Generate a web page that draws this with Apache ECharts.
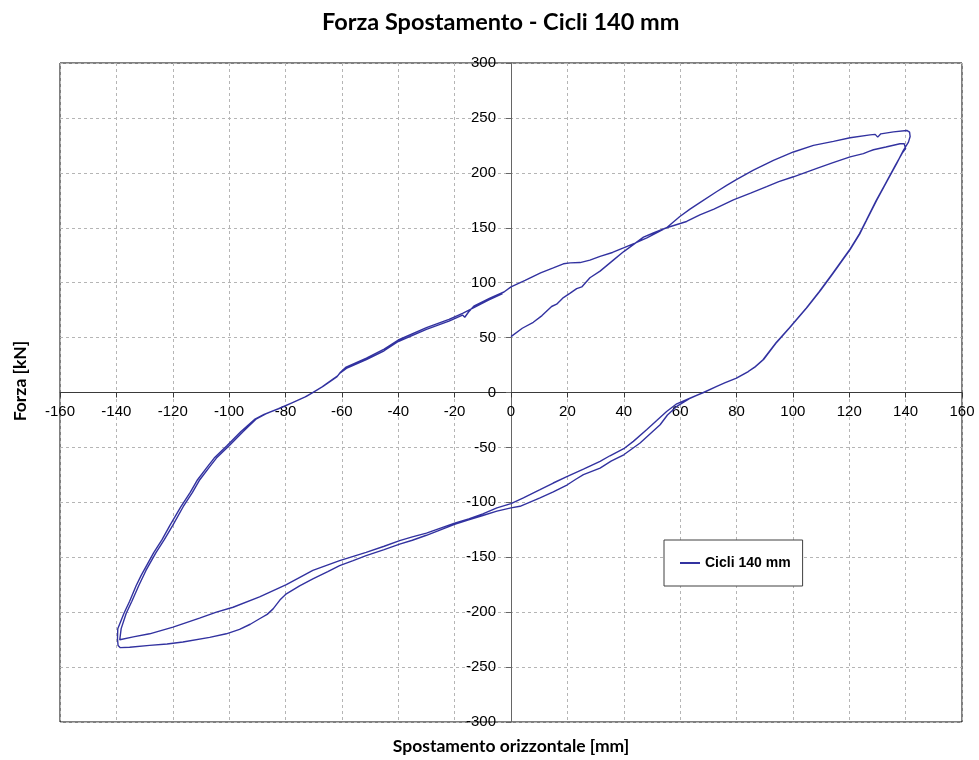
<!DOCTYPE html>
<html>
<head>
<meta charset="utf-8">
<script src="https://cdn.jsdelivr.net/npm/echarts@6/dist/echarts.min.js"></script>
<style>
html,body{margin:0;padding:0;background:#fff;}
#chart{width:979px;height:760px;}
</style>
</head>
<body>
<div id="chart"></div>
<script>
// ---- Data (x: displacement mm, y: force kN) ----
const chartTitle = 'Forza Spostamento - Cicli 140 mm';
const seriesName = 'Cicli 140 mm';
const xAxisName = 'Spostamento orizzontale [mm]';
const yAxisName = 'Forza [kN]';

// cycle 1: loading towards +140
const loading1 = [[0,50.9],[4,58.5],[7.9,63.9],[11,70],[14.4,78.3],[16.2,80.4],[18.6,86.4],[21,90.5],[23.3,94.6],[25.1,96.1],[28,104.5],[31.6,110.5],[36.3,120.5],[40,128.3],[43.4,134.6],[47,141.5],[50.5,145.2],[55.2,150],[59.9,160.2],[63.5,167],[67,172.9],[72.9,182.8],[76.5,188.5],[80.1,194],[86,202.4],[93.1,211.4],[100.2,219],[107.3,225],[114.4,228.6],[120.3,231.9],[127.4,234.6],[129.2,235],[130.1,232.5],[131.2,235.5],[135.7,237.3],[140.4,238.6],[141.4,237],[141.6,233.1],[141,228]];
// cycle 1: unloading from +140 back through zero
const unload1 = [[139.2,220.5],[136.8,208.4],[133.3,191.9],[129.8,175.3],[126.2,157.2],[123.9,145.2],[120.3,130.1],[117.5,120],[114.4,109],[109.7,92.5],[105,77.4],[99,59.3],[94.3,45.8],[89.6,30],[86.5,23],[84.2,19.1],[80,13],[76,9],[73,5.5],[68.3,0],[63.5,-5.2],[58.8,-10.3],[55.2,-17.3],[51.7,-25.5],[48.1,-33.9],[43.4,-44.5],[40,-51.2],[35.1,-57.6],[31.6,-62.7],[25.7,-69.7],[20,-76.4],[15,-82.4],[10.3,-88.5],[4.4,-96],[0,-101.2]];
// cycle 1: loading towards -140
const loadNeg1 = [[-5,-105],[-10,-110.5],[-15,-115],[-20,-119],[-25,-123.5],[-30,-128],[-35,-131.5],[-39.5,-134.8],[-45,-140],[-51.4,-145.5],[-60.8,-153],[-70.3,-162],[-79.7,-175],[-89.2,-186],[-98.6,-195.5],[-104.5,-200],[-110.5,-205.5],[-119.9,-213.6],[-128.2,-219.7],[-134,-222.5],[-138.8,-225.1]];
// cycle 1: unloading from -140
const unloadNeg1 = [[-138.8,-224],[-138.3,-215],[-136.5,-201],[-134.5,-190],[-132,-175.5],[-129.5,-162],[-126,-146],[-123,-134],[-120,-121],[-116.3,-104],[-113,-91],[-110.4,-79.4],[-107,-68],[-104.5,-59.7],[-100,-48.5],[-95,-35.5],[-90.3,-24],[-87,-19.5],[-82,-14.2],[-77.3,-9],[-72.6,-3.6],[-70.2,0],[-66.7,5.5],[-63.1,12],[-61.7,14.5],[-61.2,12.8],[-60.7,17.6],[-58.4,22],[-51.3,30],[-45,38],[-40,46.4],[-30,57.5],[-22,65],[-17.2,70.5],[-16.4,68.5],[-15,73.5],[-13.2,78.6],[-7.3,86.2],[-2.5,91.5]];
// cycle 2: loading towards +140
const loading2 = [[0,96.2],[5,102],[10.5,109],[15,113.5],[18.6,117.2],[21,118],[24.5,118.3],[28,120.5],[31.6,124],[36,127.5],[39.9,131.6],[44,136],[48.2,140.7],[55.2,150],[62.3,155.7],[67,161.7],[72,167],[78.9,175.3],[85,181.5],[90.7,187.4],[95,192],[100.2,196.4],[108.5,204],[114,209],[120.3,214.5],[125,217.5],[127,219.5],[128.6,221],[133,223.5],[138,226.5],[139.5,226.5],[140,222]];
// cycle 2: unloading from +140
const unload2 = [[138.8,218],[136.4,207],[133,191],[129.5,174.5],[126,156.5],[123.6,144.5],[120,129.5],[117.2,119.5],[114.1,108.5],[109.4,92],[104.8,77],[98.8,59],[94.1,45.5],[89.4,29.8],[86.3,22.8],[84,18.9],[79.8,12.8],[75.8,8.8],[72.8,5.3],[68.1,-0.2],[63.3,-5.5],[58.8,-12.7],[55.5,-20.5],[52.9,-29.4],[49,-38.5],[45.8,-46],[40,-56.7],[35.5,-62.5],[31.6,-68.8],[25.7,-74.8],[23,-79],[20,-84],[15,-90.5],[10.3,-96],[3.2,-103.6],[0,-105]];
// cycle 2: loading towards -140
const loadNeg2 = [[-5,-108],[-10,-112],[-15,-116],[-20,-120],[-25,-125],[-30,-130],[-35,-134.5],[-39.5,-138],[-45,-143],[-51.4,-148.5],[-56,-153],[-60.8,-157.6],[-65,-163],[-70.3,-169.7],[-75,-176],[-79.7,-183.3],[-82,-189],[-84.4,-197],[-86.5,-202],[-89.2,-206],[-92.5,-211],[-96.3,-215.7],[-101,-219.7],[-106.9,-223],[-116.4,-227.2],[-122,-229],[-128.2,-230.2],[-135.3,-232],[-138.6,-232.3],[-139.4,-230.3],[-139.6,-224.2]];
// cycle 2: unloading from -140
const unloadNeg2 = [[-139.5,-215],[-137.3,-201],[-135.3,-190],[-133,-176],[-131.2,-166.5],[-126.8,-146],[-123.8,-134],[-121,-121],[-117.1,-104],[-113.8,-91],[-111.2,-79.4],[-107.8,-68],[-105.3,-59.7],[-100.8,-48.5],[-95.8,-35.5],[-91,-24.5],[-87.6,-20],[-82.5,-14.8],[-77.7,-9.4],[-73,-4],[-70.5,-0.3],[-67,5.2],[-63.4,11.8],[-61.5,15.2],[-60.5,18.5],[-58.5,23.2],[-51.3,31.3],[-45,39.5],[-40,47.8],[-30,59],[-22,66.5],[-17,72.2],[-13,77.5],[-8,84],[-3,90]];

const xMin = -160, xMax = 160, xStep = 20;
const yMin = -300, yMax = 300, yStep = 50;

const curve = [].concat(loading1, unload1, loadNeg1, unloadNeg1, loading2, unload2, loadNeg2, unloadNeg2);

// layout of the plot area (pixels)
const G = {left: 60, right: 17, top: 63, bottom: 38};
const W = 979, H = 760;
const gw = W - G.left - G.right, gh = H - G.top - G.bottom;
// axes cross at zero: shift the axes from the grid edges to the zero lines
const xAxisOffset = -gh * (0 - yMin) / (yMax - yMin);
const yAxisOffset = -gw * (0 - xMin) / (xMax - xMin);

const chart = echarts.init(document.getElementById('chart'), null, {renderer: 'canvas'});
const lineColor = '#3232a0';
const tickFont = 'Liberation Sans, Arial, sans-serif';
const titleFont = 'Lato, Noto Sans, sans-serif';

const option = {
  animation: false,
  backgroundColor: '#ffffff',
  title: {
    text: chartTitle,
    left: 317,
    top: 5,
    textStyle: {fontFamily: titleFont, fontWeight: 'bold', fontSize: 23.5, color: '#000'}
  },
  grid: {
    left: G.left, right: G.right, top: G.top, bottom: G.bottom,
    show: true, borderColor: '#000', borderWidth: 1, backgroundColor: '#fff',
    containLabel: false
  },
  xAxis: {
    type: 'value', min: xMin, max: xMax, interval: xStep,
    position: 'bottom', offset: xAxisOffset,
    axisLine: {onZero: false, lineStyle: {color: '#3a3a3a', width: 1}},
    axisTick: {show: true, inside: false, length: 5, lineStyle: {color: '#3a3a3a'}},
    axisLabel: {fontFamily: tickFont, fontSize: 15, color: '#000', margin: 12, showMinLabel: true, showMaxLabel: true},
    splitLine: {show: true, lineStyle: {type: [3, 3], color: '#b5b5b5', width: 1}}
  },
  yAxis: {
    type: 'value', min: yMin, max: yMax, interval: yStep,
    position: 'left', offset: yAxisOffset,
    axisLine: {onZero: false, lineStyle: {color: '#666', width: 1}},
    axisTick: {show: true, inside: false, length: 5, lineStyle: {color: '#666'}},
    axisLabel: {fontFamily: tickFont, fontSize: 15, color: '#000', margin: 15, showMinLabel: true, showMaxLabel: true},
    splitLine: {show: true, lineStyle: {type: [3, 3], color: '#b5b5b5', width: 1}}
  },
  legend: {
    left: 664, top: 540,
    orient: 'horizontal',
    padding: [16, 12, 16, 16],
    borderColor: '#404040', borderWidth: 1, backgroundColor: '#fff',
    itemWidth: 20, itemHeight: 2,
    data: [{name: seriesName, icon: 'rect'}],
    textStyle: {fontFamily: tickFont, fontWeight: 'bold', fontSize: 14, color: '#000'}
  },
  graphic: [
    {type: 'text', x: 511, y: 746, style: {text: xAxisName, font: 'bold 17.5px ' + titleFont, fill: '#000', textAlign: 'center', textVerticalAlign: 'middle', align: 'center', verticalAlign: 'middle'}},
    {type: 'text', x: 20, y: 381, rotation: Math.PI / 2, style: {text: yAxisName, font: 'bold 17.5px ' + titleFont, fill: '#000', textAlign: 'center', textVerticalAlign: 'middle', align: 'center', verticalAlign: 'middle'}}
  ],
  series: [{
    name: seriesName,
    type: 'line',
    data: curve,
    showSymbol: false,
    symbol: 'none',
    smooth: false,
    lineStyle: {color: lineColor, width: 1.4},
    itemStyle: {color: lineColor}
  }]
};
chart.setOption(option);
</script>
</body>
</html>
